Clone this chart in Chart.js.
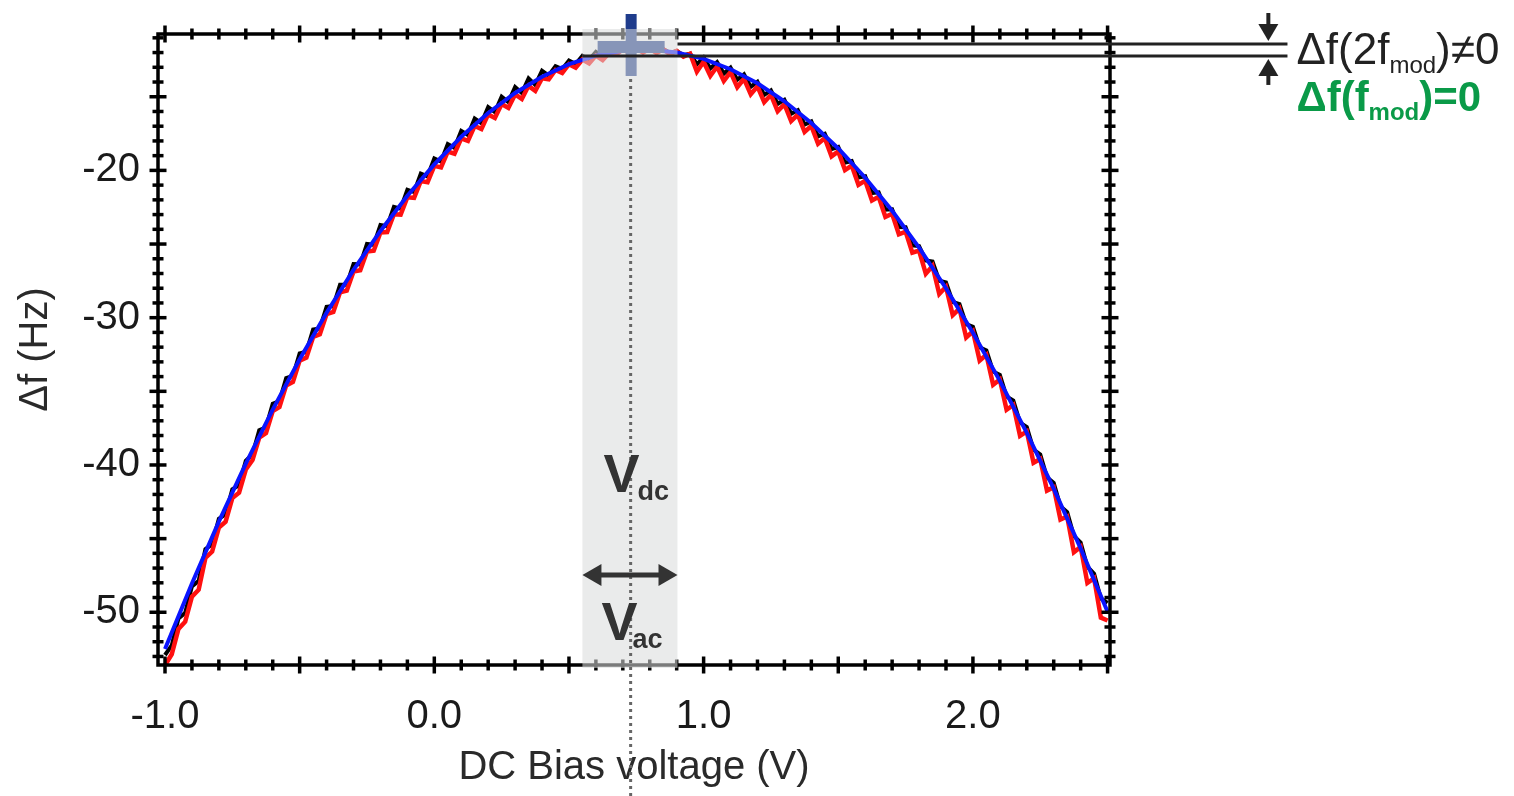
<!DOCTYPE html>
<html>
<head>
<meta charset="utf-8">
<script src="https://cdn.jsdelivr.net/npm/chart.js@4.4.0/dist/chart.umd.min.js"></script>
<style>
  html, body { margin: 0; padding: 0; background: #fff; }
  #wrap { width: 1514px; height: 796px; }
</style>
</head>
<body>
<div id="wrap"><canvas id="c" width="1514" height="796"></canvas></div>
<script>
// bias sweep (V)
const voltage = [
  -1,-0.975,-0.95,-0.925,-0.9,-0.875,-0.85,-0.825,-0.8,-0.775,
  -0.75,-0.725,-0.7,-0.675,-0.65,-0.625,-0.6,-0.575,-0.55,-0.525,
  -0.5,-0.475,-0.45,-0.425,-0.4,-0.375,-0.35,-0.325,-0.3,-0.275,
  -0.25,-0.225,-0.2,-0.175,-0.15,-0.125,-0.1,-0.075,-0.05,-0.025,
  0,0.025,0.05,0.075,0.1,0.125,0.15,0.175,0.2,0.225,
  0.25,0.275,0.3,0.325,0.35,0.375,0.4,0.425,0.45,0.475,
  0.5,0.525,0.55,0.575,0.6,0.625,0.65,0.675,0.7,0.725,
  0.75,0.775,0.8,0.825,0.85,0.875,0.9,0.925,0.95,0.975,
  1,1.025,1.05,1.075,1.1,1.125,1.15,1.175,1.2,1.225,
  1.25,1.275,1.3,1.325,1.35,1.375,1.4,1.425,1.45,1.475,
  1.5,1.525,1.55,1.575,1.6,1.625,1.65,1.675,1.7,1.725,
  1.75,1.775,1.8,1.825,1.85,1.875,1.9,1.925,1.95,1.975,
  2,2.025,2.05,2.075,2.1,2.125,2.15,2.175,2.2,2.225,
  2.25,2.275,2.3,2.325,2.35,2.375,2.4,2.425,2.45,2.475,
  2.5
];

// measured df (Hz), black trace
const dfBlack = [
  -52.9,-52.25,-50.43,-50.04,-48.24,-47.87,-45.71,-45.38,-43.65,-43.35,
  -41.65,-41.38,-39.71,-39.27,-37.64,-37.44,-35.84,-35.67,-34.10,-33.96,
  -32.42,-32.31,-30.81,-30.73,-29.26,-29.21,-27.77,-27.76,-26.36,-26.38,
  -25.00,-25.05,-23.71,-23.79,-22.48,-22.60,-21.32,-21.47,-20.22,-20.40,
  -19.19,-19.40,-18.22,-18.47,-17.32,-17.60,-16.48,-16.79,-15.70,-16.04,
  -14.99,-15.36,-14.34,-14.75,-13.76,-14.20,-13.24,-13.56,-12.93,-13.13,
  -12.54,-12.78,-12.22,-12.49,-11.96,-12.26,-11.76,-12.04,-11.78,-11.94,
  -11.71,-11.90,-11.71,-11.93,-11.77,-12.02,-11.89,-12.18,-12.08,-12.80,
  -12.33,-13.08,-12.65,-13.43,-13.03,-13.85,-13.48,-14.33,-13.99,-14.87,
  -14.57,-15.48,-15.21,-16.15,-15.91,-16.89,-16.68,-17.69,-17.51,-18.55,
  -18.41,-19.48,-19.37,-20.48,-20.40,-21.54,-21.49,-22.66,-22.64,-23.84,
  -23.86,-25.09,-25.14,-26.11,-26.19,-27.49,-27.60,-28.93,-29.08,-30.44,
  -30.62,-32.01,-32.22,-33.65,-33.89,-35.35,-35.63,-37.12,-37.42,-38.95,
  -39.29,-40.84,-41.21,-42.80,-43.20,-44.82,-45.26,-46.91,-47.38,-49.06,
  -49.36
];

// measured df (Hz), red trace
const dfRed = [
  -53.6,-52.85,-51.13,-50.64,-48.94,-48.47,-46.31,-45.88,-44.25,-43.85,
  -42.25,-41.88,-40.31,-39.67,-38.14,-37.84,-36.34,-36.07,-34.60,-34.36,
  -32.92,-32.71,-31.31,-31.13,-29.76,-29.61,-28.27,-28.16,-26.86,-26.78,
  -25.50,-25.45,-24.21,-24.19,-22.98,-23.00,-21.82,-21.87,-20.72,-20.80,
  -19.69,-19.80,-18.72,-18.87,-17.82,-18.00,-16.98,-17.19,-16.20,-16.44,
  -15.49,-15.76,-14.84,-15.15,-14.26,-14.60,-13.74,-13.81,-13.18,-13.38,
  -12.79,-13.03,-12.47,-12.74,-12.21,-12.51,-12.01,-12.14,-11.78,-12.04,
  -11.71,-12.00,-11.71,-12.03,-11.77,-12.12,-11.89,-12.28,-12.08,-13.30,
  -12.63,-13.58,-12.95,-13.93,-13.33,-14.35,-13.78,-14.83,-14.29,-15.37,
  -14.87,-15.98,-15.51,-16.65,-16.21,-17.39,-16.98,-18.19,-17.81,-19.05,
  -18.71,-19.98,-19.67,-20.98,-20.70,-22.04,-21.79,-23.16,-22.94,-24.34,
  -24.16,-25.59,-25.44,-27.01,-26.49,-28.39,-27.90,-29.83,-29.38,-31.34,
  -30.92,-32.91,-32.52,-34.55,-34.19,-36.25,-35.93,-38.02,-37.72,-39.85,
  -39.59,-41.74,-41.51,-43.70,-43.50,-45.92,-45.56,-48.01,-47.68,-50.36,
  -50.56
];

// parabolic fit (blue)
const fitVoltage = [
  -1,-0.9,-0.8,-0.7,-0.6,-0.5,-0.4,-0.3,-0.2,-0.1,
  0,0.1,0.2,0.3,0.4,0.5,0.6,0.7,0.8,0.9,
  1,1.1,1.2,1.3,1.4,1.5,1.6,1.7,1.8,1.9,
  2,2.1,2.2,2.3,2.4,2.5
];
const dfFit = [
  -52.49,-48.04,-43.85,-39.91,-36.24,-32.82,-29.66,-26.76,-24.11,-21.72,
  -19.59,-17.72,-16.10,-14.74,-13.64,-12.79,-12.21,-11.88,-11.81,-11.99,
  -12.43,-13.13,-14.09,-15.31,-16.78,-18.51,-20.50,-22.74,-25.24,-28.00,
  -31.02,-34.29,-37.82,-41.61,-45.66,-49.96
];

const xTickValues = [-1, 0, 1, 2];
const xTickLabels = ['-1.0', '0.0', '1.0', '2.0'];
const yTickValues = [-20, -30, -40, -50];
const yTickLabels = ['-20', '-30', '-40', '-50'];

// annotation positions in data units
const bandFrom = 0.55, bandTo = 0.903, vdc = 0.729;
const levelUpper = -11.42, levelLower = -12.23;
const lineEndV = 3.168, arrowV = 3.097;

const FONT = '"Liberation Sans", Arial, sans-serif';
const pts = (xs, ys) => xs.map((v, i) => ({ x: v, y: ys[i] }));

function drawParts(ctx, x, y, parts) {
  parts.forEach(p => {
    ctx.font = p.font;
    ctx.fillText(p.t, x, y + (p.dy || 0));
    x += ctx.measureText(p.t).width + (p.gap || 0);
  });
}

const decorations = {
  id: 'decorations',
  afterDraw(chart) {
    const { ctx, chartArea: a, scales: { x, y } } = chart;
    ctx.save();
    const seg = (x1, y1, x2, y2) => { ctx.beginPath(); ctx.moveTo(x1, y1); ctx.lineTo(x2, y2); ctx.stroke(); };

    // frame with ticks on all four sides
    ctx.strokeStyle = '#000';
    ctx.lineWidth = 3.5;
    ctx.strokeRect(a.left, a.top, a.right - a.left, a.bottom - a.top);
    for (let k = -10; k <= 25; k++) {
      const px = x.getPixelForValue(k / 10);
      const len = k % 5 === 0 ? 8.5 : 5.5;
      seg(px, a.bottom - len, px, a.bottom + len);
      seg(px, a.top - len, px, a.top + len);
    }
    for (let v = -53; v <= -11; v++) {
      const py = y.getPixelForValue(v);
      const len = v % 5 === 0 ? 8.5 : 5.5;
      seg(a.left - len, py, a.left + len, py);
      seg(a.right - len, py, a.right + len, py);
    }

    // cross marker at the top
    const cx = x.getPixelForValue(vdc);
    ctx.fillStyle = '#1f3c8c';
    ctx.fillRect(cx - 5, a.top - 20, 11, 62);
    ctx.fillRect(cx - 33, a.top + 7, 67, 12);

    // translucent band of the ac amplitude
    const b1 = x.getPixelForValue(bandFrom), b2 = x.getPixelForValue(bandTo);
    ctx.fillStyle = 'rgba(218,220,220,0.56)';
    ctx.fillRect(b1, a.top - 5, b2 - b1, a.bottom - a.top + 8);

    // level lines
    const xEnd = x.getPixelForValue(lineEndV);
    ctx.strokeStyle = '#222';
    ctx.lineWidth = 3;
    const yu = y.getPixelForValue(levelUpper), yl = y.getPixelForValue(levelLower);
    seg(b2, yu, xEnd, yu);
    seg(b1, yl, xEnd, yl);

    // arrows between the levels
    const ax = x.getPixelForValue(arrowV);
    ctx.fillStyle = '#222';
    ctx.lineWidth = 4;
    seg(ax, yu - 31, ax, yu - 16);
    ctx.beginPath(); ctx.moveTo(ax - 10, yu - 20); ctx.lineTo(ax + 10, yu - 20); ctx.lineTo(ax, yu - 3); ctx.closePath(); ctx.fill();
    seg(ax, yl + 16, ax, yl + 29);
    ctx.beginPath(); ctx.moveTo(ax - 10, yl + 20); ctx.lineTo(ax + 10, yl + 20); ctx.lineTo(ax, yl + 3); ctx.closePath(); ctx.fill();

    // dotted Vdc line
    ctx.strokeStyle = '#666';
    ctx.lineWidth = 3;
    ctx.setLineDash([3, 4]);
    seg(cx, a.top + 45, cx, chart.height);
    ctx.setLineDash([]);

    // double arrow for Vac
    const ay = a.bottom - 90;
    ctx.strokeStyle = '#333';
    ctx.fillStyle = '#333';
    ctx.lineWidth = 5;
    seg(b1 + 12, ay, b2 - 12, ay);
    ctx.beginPath(); ctx.moveTo(b1, ay); ctx.lineTo(b1 + 19, ay - 11); ctx.lineTo(b1 + 19, ay + 11); ctx.closePath(); ctx.fill();
    ctx.beginPath(); ctx.moveTo(b2, ay); ctx.lineTo(b2 - 19, ay - 11); ctx.lineTo(b2 - 19, ay + 11); ctx.closePath(); ctx.fill();

    // Vdc / Vac labels
    ctx.textBaseline = 'alphabetic';
    ctx.textAlign = 'left';
    drawParts(ctx, b1 + 21, a.bottom - 173, [
      { t: 'V', font: 'bold 54px ' + FONT, gap: -2 },
      { t: 'dc', font: 'bold 27px ' + FONT, dy: 8 }
    ]);
    drawParts(ctx, b1 + 19, a.bottom - 25, [
      { t: 'V', font: 'bold 54px ' + FONT, gap: -5 },
      { t: 'ac', font: 'bold 27px ' + FONT, dy: 8 }
    ]);

    // right-hand annotation
    const tx = xEnd + 9;
    ctx.fillStyle = '#222';
    drawParts(ctx, tx, yu + 20, [
      { t: '\u0394f(2f', font: '44px ' + FONT },
      { t: 'mod', font: '24px ' + FONT, dy: 9 },
      { t: ')\u22600', font: '44px ' + FONT }
    ]);
    ctx.fillStyle = '#0a9a48';
    drawParts(ctx, tx, yu + 67, [
      { t: '\u0394f(f', font: 'bold 42px ' + FONT },
      { t: 'mod', font: 'bold 24px ' + FONT, dy: 9 },
      { t: ')=0', font: 'bold 42px ' + FONT }
    ]);
    ctx.restore();
  }
};

new Chart(document.getElementById('c'), {
  type: 'scatter',
  data: {
    datasets: [
      { label: 'fit', data: pts(fitVoltage, dfFit), showLine: true, borderColor: '#0a14ff', borderWidth: 4, pointRadius: 0, order: 0 },
      { label: 'red', data: pts(voltage, dfRed), showLine: true, borderColor: '#ff1010', borderWidth: 4.5, pointRadius: 0, order: 1 },
      { label: 'black', data: pts(voltage, dfBlack), showLine: true, borderColor: '#000', borderWidth: 4, pointRadius: 0, order: 2 }
    ]
  },
  options: {
    responsive: false,
    animation: false,
    events: [],
    layout: { autoPadding: false, padding: { top: 30, right: 404, bottom: 0, left: 0 } },
    plugins: { legend: { display: false }, tooltip: { enabled: false } },
    scales: {
      x: {
        type: 'linear',
        min: -1.026,
        max: 2.509,
        grid: { display: false },
        border: { display: false },
        afterBuildTicks: s => { s.ticks = xTickValues.map(v => ({ value: v })); },
        afterFit: s => { s.height = 131; },
        ticks: {
          autoSkip: false,
          maxRotation: 0,
          padding: 20,
          color: '#1a1a1a',
          font: { family: FONT, size: 40 },
          callback: v => xTickLabels[xTickValues.indexOf(v)]
        },
        title: {
          display: true,
          text: 'DC Bias voltage (V)',
          color: '#2a2a2a',
          font: { family: FONT, size: 40 },
          padding: { top: 0, bottom: 4 }
        }
      },
      y: {
        type: 'linear',
        min: -53.58,
        max: -10.74,
        grid: { display: false },
        border: { display: false },
        afterBuildTicks: s => { s.ticks = yTickValues.map(v => ({ value: v })); },
        afterFit: s => { s.width = 158; },
        ticks: {
          autoSkip: false,
          padding: 10,
          color: '#1a1a1a',
          font: { family: FONT, size: 40 },
          callback: v => yTickLabels[yTickValues.indexOf(v)]
        },
        title: {
          display: true,
          text: '\u0394f (Hz)',
          color: '#2a2a2a',
          font: { family: FONT, size: 40 },
          padding: { top: 12, bottom: 0 }
        }
      }
    }
  },
  plugins: [decorations]
});
</script>
</body>
</html>
